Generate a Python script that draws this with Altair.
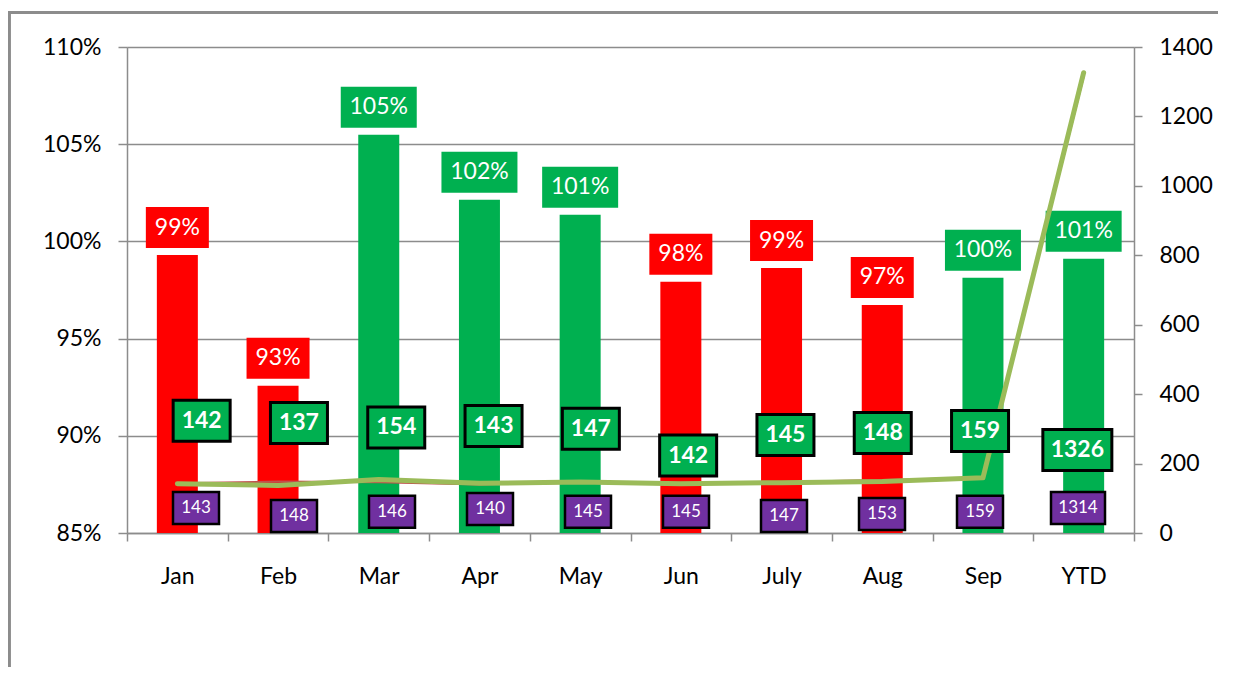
import altair as alt
import pandas as pd

# ---- data ----
months = ["Jan", "Feb", "Mar", "Apr", "May", "Jun", "July", "Aug", "Sep", "YTD"]
bar_values = [0.9930, 0.9257, 1.0548, 1.0214, 1.0137, 0.9793, 0.9863, 0.9673, 0.9813, 0.9911]
bar_labels = [0.99, 0.93, 1.05, 1.02, 1.01, 0.98, 0.99, 0.97, 1.00, 1.01]
green_series = [142, 137, 154, 143, 147, 142, 145, 148, 159, 1326]
red_series = [143, 148, 146, 140, 145, 145, 147, 153, 159, 1314]
# where the data labels sit, in right-axis units (manually placed labels)
green_label_at = [323, 317, 304, 308, 300, 223, 282, 288, 294, 239]
purple_label_at = [72, 49, 61, 69, 61, 61, 49, 55, 61, 72]

df = pd.DataFrame({
    "month": months,
    "bar": bar_values,
    "pct": bar_labels,
    "green": green_series,
    "red": red_series,
    "gpos": green_label_at,
    "ppos": purple_label_at,
})

RED = "#FF0000"
GREEN = "#00B050"
PURPLE = "#7030A0"
GRAY = "#8c8c8c"
FONT = "Lato"

W, H = 1007, 486

base = alt.Chart(df)

x_main = alt.X("month:N", sort=months, title=None,
               scale=alt.Scale(paddingInner=0, paddingOuter=0),
               axis=alt.Axis(orient="bottom", labelAngle=0, labelFont=FONT, labelFontSize=23,
                             labelColor="black", labelPadding=24, tickBand="extent",
                             tickSize=8, tickColor=GRAY, tickWidth=1.5, domainColor=GRAY,
                             domainWidth=1.5, grid=False))

left_axis = alt.Axis(orient="left", format=".0%", values=[0.85, 0.90, 0.95, 1.00, 1.05, 1.10],
                     labelFont=FONT, labelFontSize=23, labelColor="black", labelPadding=17,
                     tickSize=9, tickColor=GRAY, tickWidth=1.5, domainColor=GRAY, domainWidth=1.5,
                     grid=True, gridColor=GRAY, gridWidth=1.5, title=None)
y_left = alt.Y("bar:Q", scale=alt.Scale(domain=[0.85, 1.10], zero=False), axis=left_axis)

color_cond = alt.condition(alt.datum.pct >= 1, alt.value(GREEN), alt.value(RED))

frame_left = base.mark_rule(color=GRAY, strokeWidth=2.5).encode(
    x=alt.value(-118), y=alt.value(-34.5), y2=alt.value(900)
)
frame_top = base.mark_rule(color=GRAY, strokeWidth=2.5).encode(
    x=alt.value(-119), x2=alt.value(1091), y=alt.value(-34.5)
)

bars = base.mark_bar(width=41).encode(
    x=x_main, y=y_left, y2=alt.datum(0.85), color=color_cond
)

def pct_box(n, w):
    return base.transform_calculate(
        lab="format(datum.pct, '.0%')"
    ).transform_filter(f"length(datum.lab) == {n}").mark_bar(
        width=w, yOffset=-48, y2Offset=-7
    ).encode(x=x_main, y=y_left, y2="bar:Q", color=color_cond)

pct_text = base.transform_calculate(
    lab="format(datum.pct, '.0%')"
).mark_text(font=FONT, fontSize=23, color="white", dy=-27.5, baseline="middle").encode(
    x=x_main, y=y_left, text="lab:N"
)

left = alt.layer(frame_left, frame_top, bars, pct_box(3, 63), pct_box(4, 76), pct_text)

# ---- right axis group ----
right_axis = alt.Axis(orient="right", values=list(range(0, 1401, 200)), format="d",
                      labelFont=FONT, labelFontSize=23, labelColor="black", labelPadding=17,
                      tickSize=8, tickColor=GRAY, tickWidth=1.5, domainColor=GRAY,
                      domainWidth=1.5, grid=False, title=None)
rscale = alt.Scale(domain=[0, 1400])

x_line = alt.X("month:N", sort=months, title=None,
               scale=alt.Scale(paddingInner=0, paddingOuter=0), axis=None)

red_line = base.mark_line(color="#C0504D", strokeWidth=2).encode(
    x=x_line, y=alt.Y("red:Q", scale=rscale, axis=right_axis)
)
green_line = base.mark_line(color="#9BBB59", strokeWidth=5, strokeCap="round",
                            strokeJoin="round").encode(
    x=x_line, y=alt.Y("green:Q", scale=rscale, axis=right_axis)
)
lines = alt.layer(red_line, green_line)

x_glab = alt.X("month:N", sort=months, title=None,
               scale=alt.Scale(paddingInner=0, paddingOuter=0, range=[26, 999]), axis=None)
x_plab = alt.X("month:N", sort=months, title=None,
               scale=alt.Scale(paddingInner=0, paddingOuter=0, range=[20, 1000]), axis=None)

def label_group(field, posfield, xenc, widths, h, fill, stroke_w, fsize, weight):
    layers = []
    for n, w in widths:
        layers.append(
            base.transform_calculate(lab=f"toString(datum.{field})")
            .transform_filter(f"length(datum.lab) == {n}")
            .mark_bar(width=w, yOffset=-h / 2, y2Offset=h / 2, color=fill,
                      stroke="black", strokeWidth=stroke_w)
            .encode(x=xenc, y=alt.Y(f"{posfield}:Q", scale=rscale, axis=right_axis),
                    y2=f"{posfield}:Q")
        )
    layers.append(
        base.mark_text(font=FONT, fontSize=fsize, fontWeight=weight, color="white",
                       baseline="middle")
        .encode(x=xenc, y=alt.Y(f"{posfield}:Q", scale=rscale, axis=right_axis),
                text=f"{field}:N")
    )
    return alt.layer(*layers)

green_labels = label_group("green", "gpos", x_glab, [(3, 57), (4, 69)], 41, GREEN, 3, 23, "bold")
purple_labels = label_group("red", "ppos", x_plab, [(3, 46), (4, 54)], 32, PURPLE, 2.5, 17, "normal")

right = alt.layer(lines, green_labels, purple_labels).resolve_scale(x="independent")

chart = alt.layer(left, right).resolve_scale(y="independent").properties(
    width=W, height=H,
    autosize=alt.AutoSizeParams(type="none"),
    padding={"left": 119, "top": 39, "right": 86, "bottom": 134},
).configure_view(stroke="transparent").configure(background="transparent")

chart.save("out.html", embed_options={"renderer": "svg", "actions": False})
